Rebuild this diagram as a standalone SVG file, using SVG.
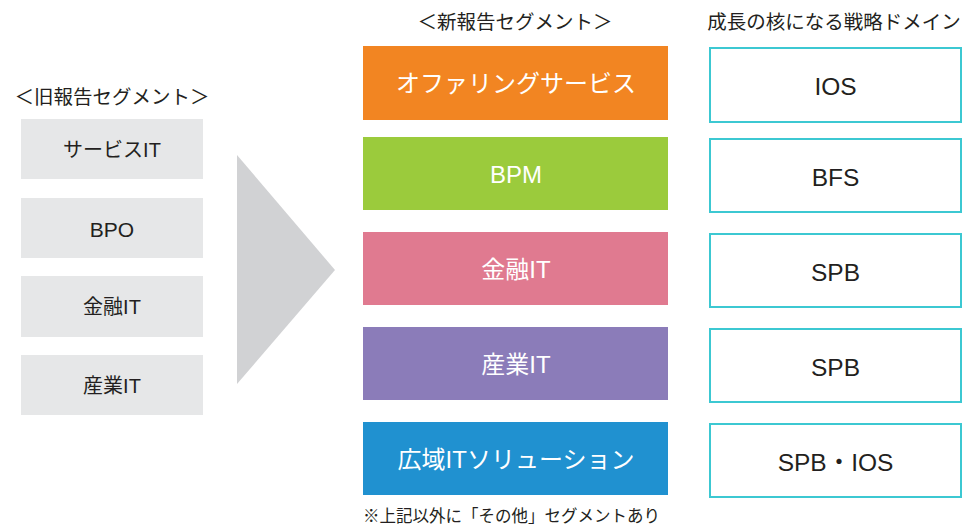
<svg xmlns="http://www.w3.org/2000/svg" width="964" height="525" viewBox="0 0 964 525">
<style>
text{font-family:"Liberation Sans","Noto Sans CJK JP",sans-serif;text-anchor:middle;dominant-baseline:central}
.hdr{font-size:19.5px;fill:#231f20}
.old rect{fill:#e6e7e8}
.old text{font-size:20px;fill:#231f20}
.new text{font-size:24px;fill:#ffffff}
.dom rect{fill:#ffffff;stroke:#3cc8d2;stroke-width:2}
.dom text{font-size:24.5px;fill:#231f20}
</style>
<rect width="964" height="525" fill="#ffffff"/>
<text class="hdr" x="112" y="97">＜旧報告セグメント＞</text>
<text class="hdr" x="515" y="22">＜新報告セグメント＞</text>
<text class="hdr" x="834" y="22">成長の核になる戦略ドメイン</text>
<g id="old1" class="old"><rect x="21" y="119" width="182" height="60"/><text x="112" y="150">サービスIT</text></g>
<g id="old2" class="old"><rect x="21" y="198" width="182" height="60"/><text x="112" y="229" style="font-size:21px">BPO</text></g>
<g id="old3" class="old"><rect x="21" y="276" width="182" height="61"/><text x="112" y="307">金融IT</text></g>
<g id="old4" class="old"><rect x="21" y="355" width="182" height="60"/><text x="112" y="386">産業IT</text></g>
<g id="connectors"><polygon points="237,155 335,270 237,384" fill="#d1d2d4"/></g>
<g id="new1" class="new"><rect x="363" y="46" width="305" height="74" fill="#f28522"/><text x="516" y="83">オファリングサービス</text></g>
<g id="new2" class="new"><rect x="363" y="137" width="305" height="73" fill="#9bcb3c"/><text x="516" y="174">BPM</text></g>
<g id="new3" class="new"><rect x="363" y="232" width="305" height="73" fill="#e07a90"/><text x="516" y="269">金融IT</text></g>
<g id="new4" class="new"><rect x="363" y="327" width="305" height="73" fill="#8b7cb9"/><text x="516" y="364">産業IT</text></g>
<g id="new5" class="new"><rect x="363" y="422" width="305" height="73" fill="#2091d0"/><text x="516" y="459">広域ITソリューション</text></g>
<g id="dom1" class="dom"><rect x="710" y="48" width="251" height="74"/><text x="835.5" y="86">IOS</text></g>
<g id="dom2" class="dom"><rect x="710" y="139" width="251" height="73"/><text x="835.5" y="177">BFS</text></g>
<g id="dom3" class="dom"><rect x="710" y="234" width="251" height="73"/><text x="835.5" y="272">SPB</text></g>
<g id="dom4" class="dom"><rect x="710" y="329" width="251" height="73"/><text x="835.5" y="367">SPB</text></g>
<g id="dom5" class="dom"><rect x="710" y="424" width="251" height="73"/><text x="835.5" y="462">SPB・IOS</text></g>
<text x="363" y="516" style="font-size:16.5px;fill:#231f20;text-anchor:start">※上記以外に「その他」セグメントあり</text>
</svg>
